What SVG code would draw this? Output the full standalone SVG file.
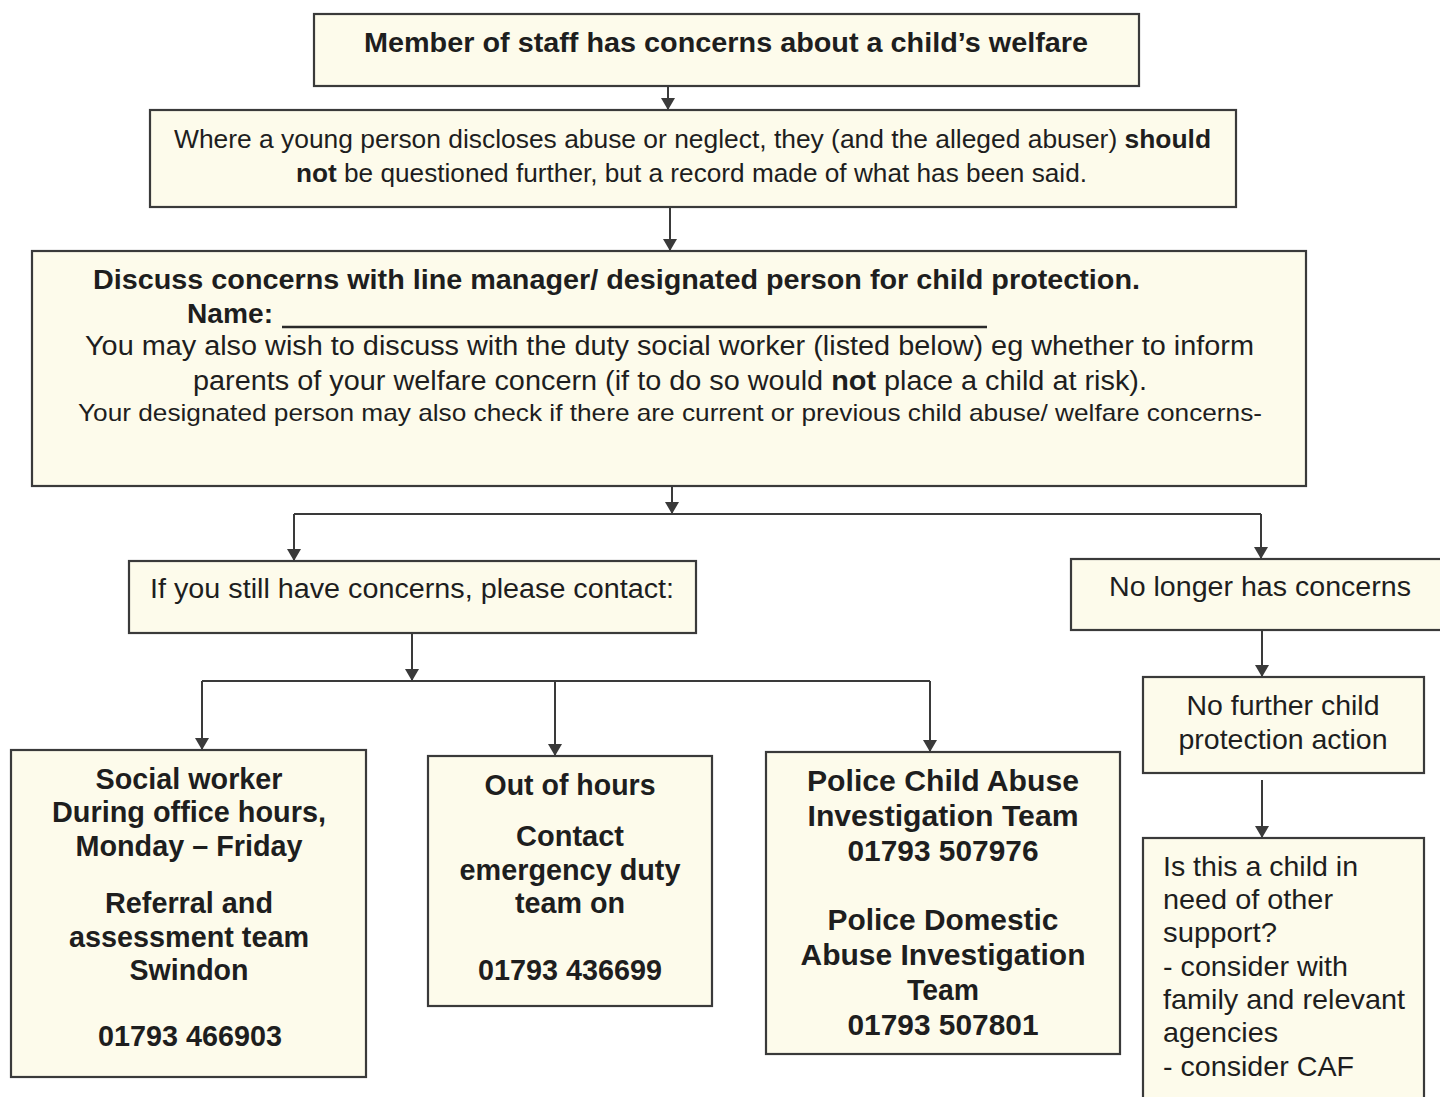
<svg xmlns="http://www.w3.org/2000/svg" width="1440" height="1097" viewBox="0 0 1440 1097">
<style>
.box{fill:#fdfbeb;stroke:#3a3a3a;stroke-width:2.2}
text{font-family:"Liberation Sans Narrow","Liberation Sans",Arial,sans-serif;fill:#1e1e1e}
.b{font-weight:bold}
.c{text-anchor:middle}
.conn{fill:none;stroke:#3a3a3a;stroke-width:2}
</style>
<defs>
<marker id="ah" viewBox="0 0 12 14" refX="12" refY="7" markerWidth="12" markerHeight="14" markerUnits="userSpaceOnUse" orient="auto">
<path d="M0,0 L12,7 L0,14 Z" fill="#3a3a3a"/>
</marker>
</defs>
<rect width="1440" height="1097" fill="#ffffff"/>
<g id="connectors">
<path class="conn" d="M668,86 V110" marker-end="url(#ah)"/>
<path class="conn" d="M670,207 V251" marker-end="url(#ah)"/>
<path class="conn" d="M672,486 V514" marker-end="url(#ah)"/>
<path class="conn" d="M294,514 H1261"/>
<path class="conn" d="M294,514 V561" marker-end="url(#ah)"/>
<path class="conn" d="M1261,514 V559" marker-end="url(#ah)"/>
<path class="conn" d="M412,633 V681" marker-end="url(#ah)"/>
<path class="conn" d="M202,681 H930"/>
<path class="conn" d="M202,681 V750" marker-end="url(#ah)"/>
<path class="conn" d="M555,681 V756" marker-end="url(#ah)"/>
<path class="conn" d="M930,681 V752" marker-end="url(#ah)"/>
<path class="conn" d="M1262,630 V677" marker-end="url(#ah)"/>
<path class="conn" d="M1262,780 V838" marker-end="url(#ah)"/>
</g>
<g id="n1">
<rect class="box" x="314" y="14" width="825" height="72"/>
<text class="b c" x="726" y="52" font-size="27" textLength="724" lengthAdjust="spacingAndGlyphs">Member of staff has concerns about a child’s welfare</text>
</g>
<g id="n2">
<rect class="box" x="150" y="110" width="1086" height="97"/>
<text x="174" y="148" font-size="25" textLength="1037" lengthAdjust="spacingAndGlyphs">Where a young person discloses abuse or neglect, they (and the alleged abuser) <tspan class="b">should</tspan></text>
<text x="296" y="182" font-size="25" textLength="791" lengthAdjust="spacingAndGlyphs"><tspan class="b">not</tspan> be questioned further, but a record made of what has been said.</text>
</g>
<g id="n3">
<rect class="box" x="32" y="251" width="1274" height="235"/>
<text class="b" x="93" y="289" font-size="27" textLength="1047" lengthAdjust="spacingAndGlyphs">Discuss concerns with line manager/ designated person for child protection.</text>
<text class="b" x="187" y="323" font-size="27" textLength="86" lengthAdjust="spacingAndGlyphs">Name:</text>
<line x1="282" y1="327" x2="987" y2="327" stroke="#2a2a2a" stroke-width="2.5"/>
<text x="85" y="355" font-size="27" textLength="1169" lengthAdjust="spacingAndGlyphs">You may also wish to discuss with the duty social worker (listed below) eg whether to inform</text>
<text x="193" y="390" font-size="27" textLength="954" lengthAdjust="spacingAndGlyphs">parents of your welfare concern (if to do so would <tspan class="b">not</tspan> place a child at risk).</text>
<text x="78" y="421" font-size="24" textLength="1184" lengthAdjust="spacingAndGlyphs">Your designated person may also check if there are current or previous child abuse/ welfare concerns-</text>
</g>
<g id="n4">
<rect class="box" x="129" y="561" width="567" height="72"/>
<text x="150" y="598" font-size="27" textLength="524" lengthAdjust="spacingAndGlyphs">If you still have concerns, please contact:</text>
</g>
<g id="n5">
<rect class="box" x="1071" y="559" width="374" height="71"/>
<text x="1109" y="596" font-size="27" textLength="302" lengthAdjust="spacingAndGlyphs">No longer has concerns</text>
</g>
<g id="n6">
<rect class="box" x="11" y="750" width="355" height="327"/>
<g font-size="29">
<text class="b c" x="189" y="789" textLength="187" lengthAdjust="spacingAndGlyphs">Social worker</text>
<text class="b c" x="189" y="822" textLength="274" lengthAdjust="spacingAndGlyphs">During office hours,</text>
<text class="b c" x="189" y="856" textLength="227" lengthAdjust="spacingAndGlyphs">Monday – Friday</text>
<text class="b c" x="189" y="913" textLength="168" lengthAdjust="spacingAndGlyphs">Referral and</text>
<text class="b c" x="189" y="947" textLength="240" lengthAdjust="spacingAndGlyphs">assessment team</text>
<text class="b c" x="189" y="980" textLength="119" lengthAdjust="spacingAndGlyphs">Swindon</text>
<text class="b c" x="190" y="1046" textLength="184" lengthAdjust="spacingAndGlyphs">01793 466903</text>
</g>
</g>
<g id="n7">
<rect class="box" x="428" y="756" width="284" height="250"/>
<g font-size="29">
<text class="b c" x="570" y="795" textLength="171" lengthAdjust="spacingAndGlyphs">Out of hours</text>
<text class="b c" x="570" y="846" textLength="108" lengthAdjust="spacingAndGlyphs">Contact</text>
<text class="b c" x="570" y="880" textLength="221" lengthAdjust="spacingAndGlyphs">emergency duty</text>
<text class="b c" x="570" y="913" textLength="110" lengthAdjust="spacingAndGlyphs">team on</text>
<text class="b c" x="570" y="980" textLength="184" lengthAdjust="spacingAndGlyphs">01793 436699</text>
</g>
</g>
<g id="n8">
<rect class="box" x="766" y="752" width="354" height="302"/>
<g font-size="29">
<text class="b c" x="943" y="791" textLength="272" lengthAdjust="spacingAndGlyphs">Police Child Abuse</text>
<text class="b c" x="943" y="826" textLength="271" lengthAdjust="spacingAndGlyphs">Investigation Team</text>
<text class="b c" x="943" y="861" textLength="191" lengthAdjust="spacingAndGlyphs">01793 507976</text>
<text class="b c" x="943" y="930" textLength="231" lengthAdjust="spacingAndGlyphs">Police Domestic</text>
<text class="b c" x="943" y="965" textLength="285" lengthAdjust="spacingAndGlyphs">Abuse Investigation</text>
<text class="b c" x="943" y="1000" textLength="72" lengthAdjust="spacingAndGlyphs">Team</text>
<text class="b c" x="943" y="1035" textLength="191" lengthAdjust="spacingAndGlyphs">01793 507801</text>
</g>
</g>
<g id="n9">
<rect class="box" x="1143" y="677" width="281" height="96"/>
<text class="c" x="1283" y="715" font-size="28" textLength="193" lengthAdjust="spacingAndGlyphs">No further child</text>
<text class="c" x="1283" y="749" font-size="28" textLength="209" lengthAdjust="spacingAndGlyphs">protection action</text>
</g>
<g id="n10">
<rect class="box" x="1143" y="838" width="281" height="270"/>
<g font-size="28">
<text x="1163" y="876" textLength="195" lengthAdjust="spacingAndGlyphs">Is this a child in</text>
<text x="1163" y="909" textLength="170" lengthAdjust="spacingAndGlyphs">need of other</text>
<text x="1163" y="942" textLength="114" lengthAdjust="spacingAndGlyphs">support?</text>
<text x="1163" y="976" textLength="185" lengthAdjust="spacingAndGlyphs">- consider with</text>
<text x="1163" y="1009" textLength="242" lengthAdjust="spacingAndGlyphs">family and relevant</text>
<text x="1163" y="1042" textLength="115" lengthAdjust="spacingAndGlyphs">agencies</text>
<text x="1163" y="1076" textLength="191" lengthAdjust="spacingAndGlyphs">- consider CAF</text>
</g>
</g>
</svg>
